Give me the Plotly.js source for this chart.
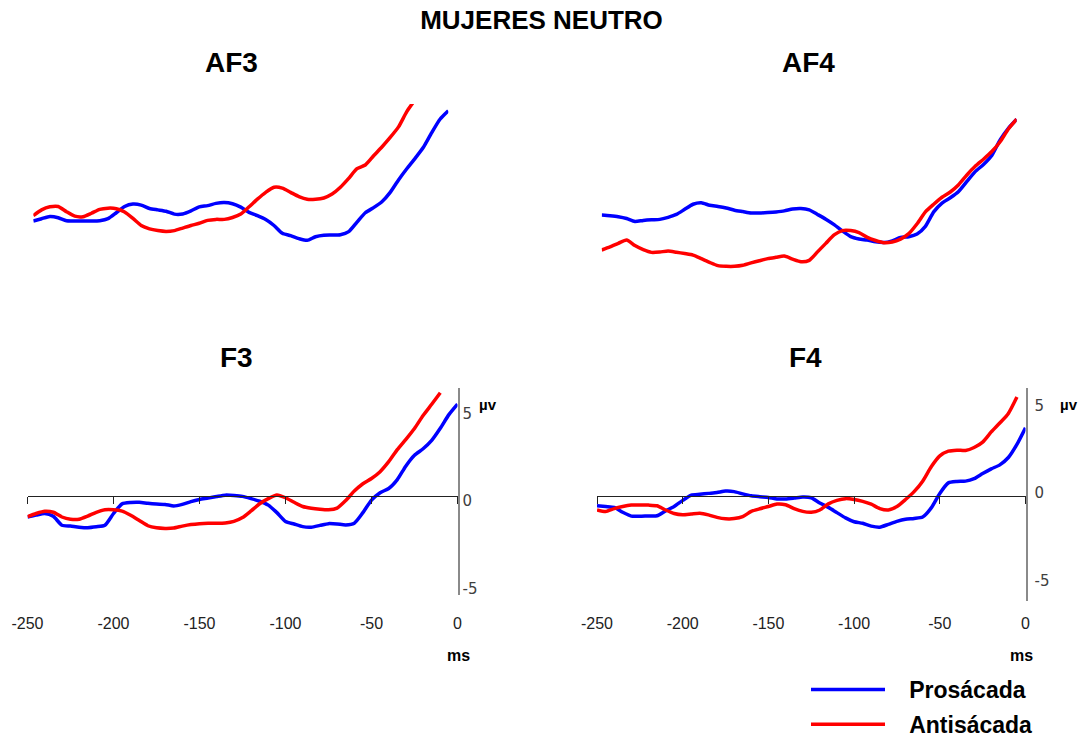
<!DOCTYPE html>
<html><head><meta charset="utf-8">
<script src="https://cdn.plot.ly/plotly-3.0.1.min.js"></script>
<style>html,body{margin:0;padding:0;background:#fff;} #chart{width:1083px;height:740px;}</style>
</head><body><div id="chart"></div>
<script>
// ---- data (ms, µV) ----
const times = [-250,-245,-240,-235,-230,-225,-220,-215,-210,-205,
  -200,-195,-190,-185,-180,-175,-170,-165,-160,-155,
  -150,-145,-140,-135,-130,-125,-120,-115,-110,-105,
  -100,-95,-90,-85,-80,-75,-70,-65,-60,-55,
  -50,-45,-40,-35,-30,-25,-20,-15,-10,-5,0];

const panelNames = ['AF3','AF4','F3','F4'];
const seriesNames = ['Prosácada','Antisácada'];
const seriesColors = ['#0000FF','#FF0000'];

const af3Pro = [-1.24,-1.10,-0.97,-1.04,-1.22,-1.23,-1.24,-1.24,-1.22,-1.10,
  -0.75,-0.38,-0.24,-0.30,-0.50,-0.58,-0.66,-0.83,-0.82,-0.64,
  -0.40,-0.33,-0.20,-0.15,-0.22,-0.42,-0.73,-0.92,-1.15,-1.50,
  -1.96,-2.10,-2.27,-2.37,-2.16,-2.07,-2.06,-2.04,-1.86,-1.30,
  -0.75,-0.45,-0.10,0.45,1.18,1.84,2.45,3.10,3.96,4.75,5.25];
const af3Anti = [-0.92,-0.58,-0.40,-0.38,-0.69,-0.95,-0.98,-0.78,-0.55,-0.48,
  -0.51,-0.70,-1.08,-1.50,-1.70,-1.80,-1.85,-1.80,-1.65,-1.50,
  -1.37,-1.20,-1.14,-1.14,-1.03,-0.83,-0.40,0.05,0.45,0.75,
  0.70,0.45,0.20,0.04,0.04,0.12,0.35,0.75,1.27,1.84,
  2.06,2.60,3.12,3.68,4.30,5.20,5.90,null,null,null,null];
const af4Pro = [-0.88,-0.92,-0.98,-1.09,-1.27,-1.20,-1.16,-1.14,-1.02,-0.85,
  -0.55,-0.25,-0.16,-0.31,-0.38,-0.47,-0.60,-0.68,-0.76,-0.77,
  -0.74,-0.70,-0.64,-0.53,-0.50,-0.58,-0.85,-1.13,-1.45,-1.82,
  -2.15,-2.29,-2.36,-2.46,-2.50,-2.40,-2.20,-2.16,-2.00,-1.55,
  -0.70,-0.18,0.13,0.50,1.09,1.67,2.09,2.62,3.53,4.22,4.75];
const af4Anti = [-2.94,-2.76,-2.55,-2.35,-2.68,-2.92,-3.08,-3.06,-3.00,-3.07,
  -3.15,-3.24,-3.45,-3.67,-3.86,-3.90,-3.90,-3.84,-3.70,-3.57,
  -3.45,-3.37,-3.30,-3.48,-3.63,-3.55,-3.05,-2.55,-2.05,-1.80,
  -1.80,-1.92,-2.20,-2.38,-2.51,-2.47,-2.30,-1.98,-1.40,-0.70,
  -0.25,0.16,0.47,0.90,1.47,1.98,2.40,2.85,3.43,4.18,4.75];
const f3Pro = [-1.20,-1.09,-1.00,-1.16,-1.67,-1.72,-1.78,-1.81,-1.76,-1.67,
  -1.00,-0.45,-0.37,-0.36,-0.42,-0.46,-0.48,-0.57,-0.48,-0.32,
  -0.20,-0.12,-0.03,0.05,0.03,-0.02,-0.15,-0.30,-0.52,-0.95,
  -1.45,-1.60,-1.75,-1.78,-1.68,-1.58,-1.60,-1.65,-1.55,-0.95,
  -0.24,0.19,0.43,0.94,1.72,2.33,2.70,3.18,3.87,4.65,5.25];
const f3Anti = [-1.18,-1.00,-0.87,-0.93,-1.20,-1.33,-1.33,-1.15,-0.93,-0.78,
  -0.78,-0.86,-1.10,-1.40,-1.70,-1.82,-1.85,-1.83,-1.72,-1.63,
  -1.58,-1.56,-1.56,-1.54,-1.45,-1.23,-0.85,-0.44,-0.15,0.06,
  -0.10,-0.36,-0.60,-0.70,-0.76,-0.79,-0.69,-0.26,0.28,0.70,
  1.00,1.39,1.96,2.65,3.24,3.86,4.60,5.24,5.90,null,null];
const f4Pro = [-0.55,-0.60,-0.65,-0.93,-1.15,-1.16,-1.14,-1.13,-0.85,-0.60,
  -0.25,0.05,0.10,0.15,0.20,0.28,0.25,0.12,0.01,-0.04,
  -0.08,-0.17,-0.17,-0.12,-0.06,-0.10,-0.40,-0.65,-0.95,-1.25,
  -1.47,-1.56,-1.72,-1.78,-1.62,-1.45,-1.33,-1.28,-1.20,-0.68,
  0.15,0.75,0.83,0.85,0.99,1.28,1.55,1.78,2.20,2.95,3.90];
const f4Anti = [-0.80,-0.89,-0.72,-0.60,-0.52,-0.51,-0.52,-0.56,-0.80,-1.00,
  -1.07,-1.03,-0.99,-1.08,-1.22,-1.30,-1.29,-1.18,-0.88,-0.73,
  -0.60,-0.46,-0.50,-0.72,-0.88,-0.93,-0.80,-0.45,-0.25,-0.15,
  -0.20,-0.31,-0.47,-0.72,-0.80,-0.60,-0.20,0.25,0.85,1.67,
  2.29,2.56,2.62,2.60,2.77,3.08,3.66,4.17,4.72,5.66,null];

const xTickVals = [-250,-200,-150,-100,-50,0];
const xTickText = ['-250','-200','-150','-100','-50','0'];
const yTickVals = [-5,0,5];
const yTickText = ['-5','0','5'];

// ---- layout helpers (pixel -> paper) ----
const W = 1083, H = 740;
const px = v => v / W;
const py = v => 1 - v / H;
const BOLD = "'Liberation Sans',Arial,sans-serif";
const SANS = "'DejaVu Sans',Tahoma,Verdana,sans-serif";

const panelSeries = [[af3Pro, af3Anti],[af4Pro, af4Anti],[f3Pro, f3Anti],[f4Pro, f4Anti]];
const traces = [];
panelSeries.forEach((pair, p) => {
  pair.forEach((vals, s) => {
    traces.push({
      type: 'scatter', mode: 'lines', x: times, y: vals,
      name: '\u00a0\u00a0\u00a0' + seriesNames[s], legendgroup: seriesNames[s],
      showlegend: p === 2,
      line: {color: seriesColors[s], width: 3.5, shape: 'spline', smoothing: 0.6},
      xaxis: p === 0 ? 'x' : 'x' + (p + 1),
      yaxis: p === 0 ? 'y' : 'y' + (p + 1),
      hoverinfo: 'skip'
    });
  });
});

const hidden = {visible: false, fixedrange: true};
// x axis drawn at the zero level, labels pushed down to the bottom row
const zeroAxis = (dom) => ({
  domain: dom, range: [-250, 0], anchor: 'free', position: py(496),
  showline: true, linecolor: '#222', linewidth: 1,
  ticks: 'outside', ticklen: 7, tickwidth: 1, tickcolor: '#222',
  tickmode: 'array', tickvals: xTickVals, ticktext: xTickText,
  tickfont: {family: BOLD, size: 16, color: '#222'}, ticklabelstandoff: 106,
  showgrid: false, zeroline: false, fixedrange: true
});
const vAxis = (anchor, dom, rng, shift, standoff) => ({
  anchor: anchor, domain: dom, range: rng, side: 'right',
  showline: true, linecolor: '#8a8a8a', linewidth: 2,
  showgrid: false, zeroline: false, ticks: '',
  tickmode: 'array', tickvals: yTickVals, ticktext: yTickText,
  tickfont: {family: SANS, size: 15, color: '#404040'},
  ticklabelshift: shift, ticklabelstandoff: standoff, fixedrange: true
});

const topDomY = [py(300), py(104)];
const topRange = [(200 - 300) / 17, (200 - 104) / 17];

const annot = (list, font) => list.map(a => Object.assign(a, {xref: 'paper', yref: 'paper',
  showarrow: false, xanchor: 'center', yanchor: 'middle', font: font}));

const layout = {
  width: W, height: H, margin: {l: 0, r: 0, t: 0, b: 0, pad: 0, autoexpand: false},
  paper_bgcolor: '#fff', plot_bgcolor: 'rgba(0,0,0,0)',
  title: {text: 'MUJERES NEUTRO', x: 0.5, xanchor: 'center', y: py(20), yanchor: 'middle',
          font: {family: BOLD, size: 26, weight: 'bold', color: '#000'}},
  xaxis: Object.assign({domain: [px(33.3), px(448.3)], range: [-250, 0], anchor: 'y'}, hidden),
  yaxis: Object.assign({domain: topDomY, range: topRange, anchor: 'x'}, hidden),
  xaxis2: Object.assign({domain: [px(601.7), px(1016.7)], range: [-250, 0], anchor: 'y2'}, hidden),
  yaxis2: Object.assign({domain: topDomY, range: topRange, anchor: 'x2'}, hidden),
  xaxis3: zeroAxis([px(27.5), px(457.5)]),
  yaxis3: vAxis('x3', [py(595), py(388)], [(496 - 595) / 17.5, (496 - 388) / 17.5], 5, 0),
  xaxis4: zeroAxis([px(597), px(1025.5)]),
  yaxis4: vAxis('x4', [py(601), py(388)], [(496 - 601) / 17.5, (496 - 388) / 17.5], -3, 4),
  showlegend: true,
  legend: {x: px(806), y: py(668), xanchor: 'left', yanchor: 'top',
           font: {family: BOLD, size: 23, weight: 'bold', color: '#000'},
           itemwidth: 74, tracegroupgap: 2, bgcolor: 'rgba(0,0,0,0)'},
  annotations: annot([
      {text: panelNames[0], x: px(231), y: py(62)},
      {text: panelNames[1], x: px(808), y: py(62)},
      {text: panelNames[2], x: px(236), y: py(358)},
      {text: panelNames[3], x: px(805), y: py(358)}
    ], {family: BOLD, size: 28, weight: 'bold', color: '#000'})
    .concat(annot([
      {text: 'ms', x: px(458), y: py(655)},
      {text: 'ms', x: px(1021), y: py(655)}
    ], {family: BOLD, size: 16, weight: 'bold', color: '#000'}))
    .concat(annot([
      {text: 'µv', x: px(488), y: py(405)},
      {text: 'µv', x: px(1069), y: py(404)}
    ], {family: BOLD, size: 15, weight: 'bold', color: '#000'}))
};

Plotly.newPlot('chart', traces, layout, {staticPlot: true, displayModeBar: false});
</script>
</body></html>
